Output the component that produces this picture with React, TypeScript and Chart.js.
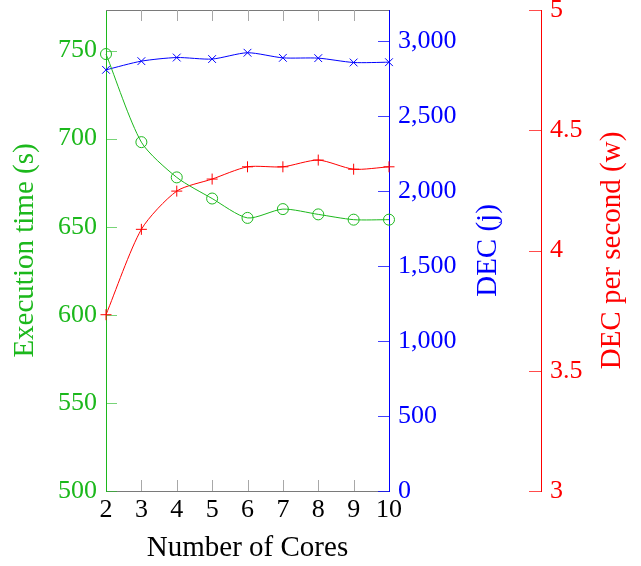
import React, { useEffect, useRef } from 'react';
import { Chart, registerables } from 'chart.js';

Chart.register(...registerables);

// ---- data ----
const cores = [2, 3, 4, 5, 6, 7, 8, 9, 10];
const execTime = [748, 698, 678, 666, 655, 660, 657, 654, 654];
const dec = [2808, 2866, 2890, 2880, 2922, 2888, 2886, 2857, 2859];
const decPerSecond = [3.733, 4.088, 4.247, 4.297, 4.348, 4.348, 4.376, 4.338, 4.348];

const coreTicks = [2, 3, 4, 5, 6, 7, 8, 9, 10];
const timeTicks = [500, 550, 600, 650, 700, 750];
const decTicks = [0, 500, 1000, 1500, 2000, 2500, 3000];
const rateTicks = [3, 3.5, 4, 4.5, 5];

const xTitle = 'Number of Cores';
const timeTitle = 'Execution time (s)';
const decTitle = 'DEC (j)';
const rateTitle = 'DEC per second (w)';

// ---- styles ----
const GREEN = '#1cb81c';
const GREEN_TICK = 'rgba(28,184,28,0.6)';
const BLUE = '#0000ff';
const BLUE_TICK = 'rgba(0,0,255,0.75)';
const RED = '#ff0000';
const RED_TICK = 'rgba(255,0,0,0.7)';
const GRAY = '#7a7a7a';
const GRAY_TICK = '#a8a8a8';
const FONT = "'Liberation Serif', 'Times New Roman', serif";
const TICK_SIZE = 26;
const TITLE_SIZE = 29;
const TENSION = 0.25;

const decorPlugin = {
  id: 'decor',
  beforeDatasetsDraw(chart: any) {
    const { ctx, chartArea, scales } = chart;
    const { left, right, top, bottom } = chartArea;
    ctx.save();
    ctx.lineWidth = 1;
    // top frame line
    ctx.strokeStyle = GRAY;
    ctx.beginPath();
    const ty = Math.round(top) + 0.5;
    ctx.moveTo(left, ty);
    ctx.lineTo(right, ty);
    ctx.stroke();
    // x tick marks top & bottom (inward)
    ctx.strokeStyle = GRAY_TICK;
    for (const v of coreTicks) {
      const px = Math.round(scales.x.getPixelForValue(v)) + 0.5;
      if (px <= left + 1 || px >= right - 1) continue;
      ctx.beginPath();
      ctx.moveTo(px, bottom);
      ctx.lineTo(px, bottom - 11);
      ctx.moveTo(px, top);
      ctx.lineTo(px, top + 11);
      ctx.stroke();
    }
    // left (time) ticks inward
    ctx.strokeStyle = GREEN_TICK;
    for (const v of timeTicks) {
      const py = Math.round(scales.yTime.getPixelForValue(v)) + 0.5;
      ctx.beginPath();
      ctx.moveTo(left, py);
      ctx.lineTo(left + 11, py);
      ctx.stroke();
    }
    // right (dec) ticks inward
    ctx.strokeStyle = BLUE_TICK;
    for (const v of decTicks) {
      const py = Math.round(scales.yDec.getPixelForValue(v)) + 0.5;
      ctx.beginPath();
      ctx.moveTo(right, py);
      ctx.lineTo(right - 11, py);
      ctx.stroke();
    }
    // red axis ticks (pointing left)
    ctx.strokeStyle = RED_TICK;
    const rx = scales.yRate.left;
    for (const v of rateTicks) {
      const py = Math.round(scales.yRate.getPixelForValue(v)) + 0.5;
      ctx.beginPath();
      ctx.moveTo(rx, py);
      ctx.lineTo(rx - 12, py);
      ctx.stroke();
    }
    ctx.restore();
  },
  afterDraw(chart: any) {
    const { ctx, chartArea, scales } = chart;
    const midY = (chartArea.top + chartArea.bottom) / 2;
    ctx.save();
    ctx.font = `${TITLE_SIZE}px ${FONT}`;
    ctx.textAlign = 'center';
    ctx.textBaseline = 'alphabetic';
    const rotated = (text: string, x: number, color: string) => {
      ctx.save();
      ctx.translate(x, midY);
      ctx.rotate(-Math.PI / 2);
      ctx.fillStyle = color;
      ctx.fillText(text, 0, 0);
      ctx.restore();
    };
    rotated(timeTitle, scales.yTime.left + 33, GREEN);
    rotated(decTitle, scales.yDec.left + 107, BLUE);
    rotated(rateTitle, scales.yRate.left + 79, RED);
    ctx.fillStyle = '#000';
    ctx.fillText(xTitle, (chartArea.left + chartArea.right) / 2, scales.x.top + 65);
    ctx.restore();
  },
};

const toPts = (ys: number[]) => cores.map((c, i) => ({ x: c, y: ys[i] }));

export default function App() {
  const ref = useRef<HTMLCanvasElement | null>(null);

  useEffect(() => {
    if (!ref.current) return;
    const tickFont = { family: FONT, size: TICK_SIZE };
    const chart = new Chart(ref.current, {
      type: 'line',
      data: {
        datasets: [
          {
            label: timeTitle,
            data: toPts(execTime),
            yAxisID: 'yTime',
            borderColor: GREEN,
            borderWidth: 1,
            pointStyle: 'circle',
            pointRadius: 5.5,
            pointBorderWidth: 1,
            pointBorderColor: GREEN,
            pointBackgroundColor: 'rgba(0,0,0,0)',
            tension: TENSION,
            clip: false,
          },
          {
            label: decTitle,
            data: toPts(dec),
            yAxisID: 'yDec',
            borderColor: BLUE,
            borderWidth: 1,
            pointStyle: 'crossRot',
            pointRadius: 5.5,
            pointBorderWidth: 1,
            pointBorderColor: BLUE,
            tension: TENSION,
            clip: false,
          },
          {
            label: rateTitle,
            data: toPts(decPerSecond),
            yAxisID: 'yRate',
            borderColor: RED,
            borderWidth: 1,
            pointStyle: 'cross',
            pointRadius: 5.5,
            pointBorderWidth: 1,
            pointBorderColor: RED,
            tension: TENSION,
            clip: false,
          },
        ] as any,
      },
      options: {
        responsive: false,
        animation: false,
        devicePixelRatio: 1,
        layout: { padding: { top: 10, left: 0, right: 0, bottom: 0 } },
        plugins: { legend: { display: false }, tooltip: { enabled: false } },
        scales: {
          x: {
            type: 'linear',
            min: 2,
            max: 10,
            afterBuildTicks: (s: any) => { s.ticks = coreTicks.map((v) => ({ value: v })); },
            afterFit: (s: any) => { s.height = 75; s.paddingLeft = 0; s.paddingRight = 0; },
            grid: { display: false, drawTicks: false },
            border: { display: true, color: GRAY, width: 1 },
            ticks: { color: '#000', font: tickFont, padding: 4, maxRotation: 0, autoSkip: false, callback: (v: any) => String(v) },
          },
          yTime: {
            type: 'linear',
            position: 'left',
            min: 500,
            max: 773,
            afterBuildTicks: (s: any) => { s.ticks = timeTicks.map((v) => ({ value: v })); },
            afterFit: (s: any) => { s.width = 106; s.paddingTop = 0; s.paddingBottom = 0; },
            grid: { display: false, drawTicks: false },
            border: { display: true, color: GREEN, width: 1 },
            ticks: { color: GREEN, font: tickFont, padding: 9, autoSkip: false, callback: (v: any) => String(v) },
          },
          yDec: {
            type: 'linear',
            position: 'right',
            min: 0,
            max: 3207,
            afterBuildTicks: (s: any) => { s.ticks = decTicks.map((v) => ({ value: v })); },
            afterFit: (s: any) => { s.width = 152; s.paddingTop = 0; s.paddingBottom = 0; },
            grid: { display: false, drawTicks: false },
            border: { display: true, color: BLUE, width: 1 },
            ticks: { color: BLUE, font: tickFont, padding: 9, autoSkip: false, callback: (v: any) => Number(v).toLocaleString('en-US') },
          },
          yRate: {
            type: 'linear',
            position: 'right',
            min: 3,
            max: 5,
            afterBuildTicks: (s: any) => { s.ticks = rateTicks.map((v) => ({ value: v })); },
            afterFit: (s: any) => { s.width = 100; s.paddingTop = 0; s.paddingBottom = 0; },
            grid: { display: false, drawTicks: false },
            border: { display: true, color: RED, width: 1 },
            ticks: { color: RED, font: tickFont, padding: 9, autoSkip: false, callback: (v: any) => String(v) },
          },
        },
      } as any,
      plugins: [decorPlugin],
    });
    return () => chart.destroy();
  }, []);

  return (
    <div style={{ position: 'absolute', left: 0, top: 0, width: 641, height: 566 }}>
      <canvas ref={ref} width={641} height={566} style={{ display: 'block' }} />
    </div>
  );
}
